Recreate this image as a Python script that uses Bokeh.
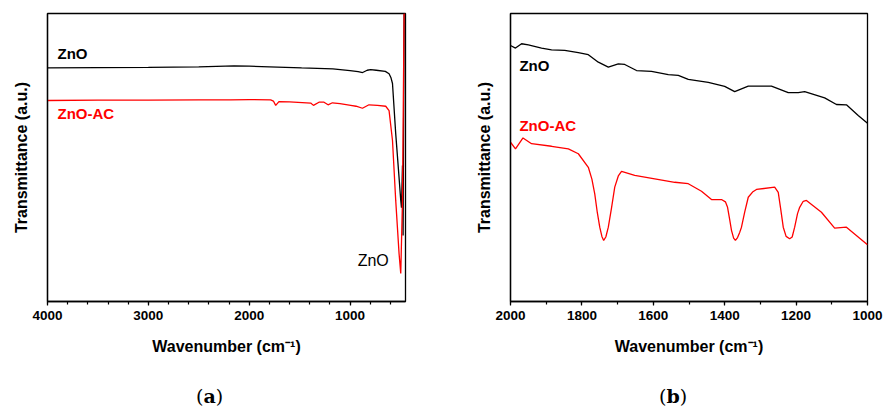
from bokeh.plotting import figure
from bokeh.layouts import row, column
from bokeh.models import Range1d, FixedTicker, Div
from bokeh.core.properties import value
from bokeh.embed import file_html
from bokeh.resources import INLINE

# ---------------- Panel (a): full range ----------------
a_black_wn = [4000, 3500, 3000, 2500, 2150, 2000, 1800, 1480, 1170, 1000, 920, 875, 830, 795, 740,
              650, 613, 595, 579, 547, 514, 497, 490, 480, 474, 464, 452]
a_black_t = [81.1, 81.2, 81.3, 81.5, 81.8, 81.7, 81.5, 81.1, 80.8, 80.2, 79.8, 79.5, 80.3, 80.5, 80.3,
             79.9, 79.1, 77.8, 75.7, 58.3, 43.1, 35.1, 32.6, 47.2, 22.9, 99.7, 99.7]

a_red_wn = [4000, 3500, 3000, 2500, 2184, 2000, 1787, 1760, 1737, 1705, 1600, 1390, 1363, 1308, 1258,
            1218, 1175, 1100, 993, 940, 877, 812, 728, 646, 613, 579, 547, 514, 497, 480, 464, 452]
a_red_t = [69.8, 69.9, 69.9, 70.0, 70.0, 70.1, 70.0, 69.6, 68.1, 69.4, 69.3, 68.9, 68.1, 69.2, 69.2,
           68.3, 69.0, 68.7, 68.1, 67.8, 67.1, 68.3, 68.1, 67.8, 66.3, 55.9, 35.1, 16.7, 9.7, 35.1, 99.9, 99.9]

a_ticks = [4000, 3000, 2000, 1000]
a_minor = list(range(4000, 400, -200))

# ---------------- Panel (b): 2000-1000 ----------------
b_black_wn = [2000, 1986, 1969, 1950, 1913, 1885, 1848, 1810, 1782, 1754, 1726, 1698, 1680, 1647, 1605,
              1558, 1530, 1502, 1446, 1400, 1372, 1334, 1269, 1222, 1194, 1176, 1120, 1087, 1059, 1026, 1000]
b_black_t = [88.9, 88.0, 89.5, 89.1, 88.0, 87.4, 87.2, 86.4, 85.7, 83.1, 81.4, 82.5, 82.3, 80.2, 79.9,
             78.8, 78.5, 77.1, 76.1, 74.7, 72.9, 74.8, 74.8, 72.5, 72.5, 72.9, 70.7, 68.4, 68.3, 64.6, 61.9]

b_red_wn = [2000, 1986, 1965, 1941, 1885, 1838, 1810, 1782, 1772, 1764, 1757, 1750, 1744, 1739, 1733,
            1726, 1717, 1708, 1698, 1689, 1652, 1596, 1540, 1502, 1465, 1437, 1409, 1398, 1392, 1386,
            1381, 1375, 1370, 1364, 1358, 1353, 1344, 1334, 1322, 1311, 1260, 1250, 1243, 1236, 1228,
            1218, 1211, 1204, 1196, 1190, 1180, 1171, 1129, 1092, 1059, 1000]
b_red_t = [55.3, 53.0, 56.8, 54.8, 53.9, 53.0, 51.3, 46.6, 42.5, 37.4, 31.0, 25.8, 22.6, 21.2, 22.4,
           25.8, 32.5, 39.7, 43.6, 45.2, 43.8, 42.6, 41.4, 40.9, 38.3, 35.4, 35.4, 34.6, 32.7, 28.4,
           24.7, 22.0, 21.2, 22.2, 24.0, 25.8, 31.0, 36.2, 38.0, 38.9, 39.7, 37.9, 32.0, 25.8, 22.6,
           21.8, 22.4, 25.8, 30.5, 32.7, 34.8, 35.1, 31.0, 25.5, 25.8, 19.7]

b_ticks = [2000, 1800, 1600, 1400, 1200, 1000]
b_minor = list(range(2000, 999, -100))

SANS = "Liberation Sans"


def make_panel(x0, x1, ticks, minor, width, bl, br):
    p = figure(width=width, height=380, x_range=Range1d(x0, x1), y_range=Range1d(0, 100),
               output_backend="svg", toolbar_location=None,
               min_border_left=bl, min_border_right=br, min_border_top=13, min_border_bottom=79)
    p.grid.visible = False
    p.outline_line_color = "black"
    p.outline_line_width = 1.3
    p.background_fill_color = "white"
    p.border_fill_color = "white"

    xa = p.xaxis[0]
    xa.ticker = FixedTicker(ticks=ticks, minor_ticks=minor)
    xa.axis_line_color = "black"
    xa.axis_line_width = 1.3
    xa.major_tick_out = 4
    xa.major_tick_in = 0
    xa.minor_tick_out = 3
    xa.minor_tick_in = 0
    xa.major_tick_line_width = 1.2
    xa.minor_tick_line_width = 1.2
    xa.major_label_text_font = SANS
    xa.major_label_text_font_style = "bold"
    xa.major_label_text_font_size = "13.5px"
    xa.major_label_text_color = "black"
    xa.major_label_standoff = 5
    xa.axis_label = "Wavenumber (cm\u207b\u00b9)"
    xa.axis_label_text_font = SANS
    xa.axis_label_text_font_style = "bold"
    xa.axis_label_text_font_size = "16px"
    xa.axis_label_text_color = "black"
    xa.axis_label_standoff = 15

    ya = p.yaxis[0]
    ya.ticker = FixedTicker(ticks=[])
    ya.axis_line_color = "black"
    ya.axis_line_width = 1.3
    ya.major_tick_line_color = None
    ya.minor_tick_line_color = None
    ya.axis_label = "Transmittance (a.u.)"
    ya.axis_label_text_font = SANS
    ya.axis_label_text_font_style = "bold"
    ya.axis_label_text_font_size = "16px"
    ya.axis_label_text_color = "black"
    ya.axis_label_standoff = 18
    return p


def letter_div(letter, pad, width):
    html = ('<div style="font-family: DejaVu Serif, serif; font-size: 19px; line-height: 22px; '
            'color: black; padding-left: %dpx; white-space: nowrap;">(<b>%s</b>)</div>' % (pad, letter))
    return Div(text=html, width=width, height=28)


pa = make_panel(4000, 450, a_ticks, a_minor, 441, 47, 36)
pa.line(a_black_wn, a_black_t, line_color="black", line_width=1.3)
pa.line(a_red_wn, a_red_t, line_color="#ff0000", line_width=1.3)
pa.text(x=[3901], y=[86.1], text=["ZnO"], text_font=value(SANS), text_font_style="bold",
        text_font_size="15px", text_color="black", text_baseline="middle", text_align="left")
pa.text(x=[3901], y=[65.3], text=["ZnO-AC"], text_font=value(SANS), text_font_style="bold",
        text_font_size="15px", text_color="#ff0000", text_baseline="middle", text_align="left")
pa.text(x=[924], y=[14.2], text=["ZnO"], text_font=value(SANS),
        text_font_size="16px", text_color="black", text_baseline="middle", text_align="left")

pb = make_panel(2000, 1000, b_ticks, b_minor, 442, 69, 16)
pb.line(b_black_wn, b_black_t, line_color="black", line_width=1.3)
pb.line(b_red_wn, b_red_t, line_color="#ff0000", line_width=1.3)
pb.text(x=[1975], y=[81.9], text=["ZnO"], text_font=value(SANS), text_font_style="bold",
        text_font_size="15px", text_color="black", text_baseline="middle", text_align="left")
pb.text(x=[1975], y=[61.1], text=["ZnO-AC"], text_font=value(SANS), text_font_style="bold",
        text_font_size="15px", text_color="#ff0000", text_baseline="middle", text_align="left")

da = letter_div("a", 191, 441)
db = letter_div("b", 203, 442)

layout = column(row(pa, pb, spacing=0), row(da, db, spacing=0), spacing=0)
open("out.html", "w").write(file_html(layout, INLINE))
